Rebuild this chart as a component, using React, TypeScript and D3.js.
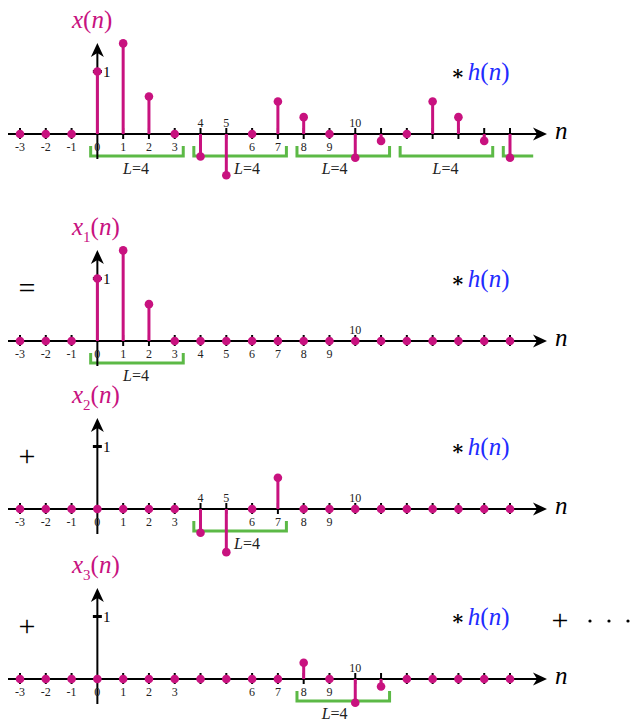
import React from "react";
import * as d3 from "d3";

// ---------- data ----------
const nValues = d3.range(-3, 17); // -3 .. 16
const xSeq = [0, 0, 0, 1, 1.45, 0.6, 0, -0.36, -0.66, 0, 0.52, 0.27, 0, -0.38, -0.11, 0, 0.52, 0.27, -0.11, -0.38];
const x1Seq = [0, 0, 0, 1, 1.45, 0.59, 0, 0, 0, 0, 0, 0, 0, 0, 0, 0, 0, 0, 0, 0];
const x2Seq = [0, 0, 0, 0, 0, 0, 0, -0.38, -0.69, 0, 0.5, 0, 0, 0, 0, 0, 0, 0, 0, 0];
const x3Seq = [0, 0, 0, 0, 0, 0, 0, 0, 0, 0, 0, 0.26, 0, -0.38, -0.12, 0, 0, 0, 0, 0];
const tickLabelNs = d3.range(-3, 11); // labels -3 .. 10
const blockLength = 4;
const blocks1 = [0, 4, 8, 12, 16];
const blocks2 = [0];
const blocks3 = [4];
const blocks4 = [8];
const blockLabelShift = [0, 0.3, -0.3, 0, 0]; // indexed by block number (start / 4)
const hidden4 = [4, 5];

// ---------- styling ----------
const MAG = "#c8127f";
const GREEN = "#5cb946";
const BLUE = "#1f2cff";
const SERIF = "'Liberation Serif', 'DejaVu Serif', serif";

const xScale = d3.scaleLinear().domain([-3, 16]).range([20, 510]);
const UNIT = 62.5;

function stealth(tipX: number, tipY: number, dir: "up" | "right") {
  const L = 14, W = 6.5, notch = 4;
  if (dir === "right") {
    return `M${tipX},${tipY} L${tipX - L},${tipY - W} L${tipX - L + notch},${tipY} L${tipX - L},${tipY + W} Z`;
  }
  return `M${tipX},${tipY} L${tipX - W},${tipY + L} L${tipX},${tipY + L - notch} L${tipX + W},${tipY + L} Z`;
}

type PanelProps = {
  axisY: number;
  values: number[];
  sub?: string;
  blocks: number[];
  op?: string;
  hidden?: number[];
};

function Panel({ axisY, values, sub, blocks, op, hidden = [] }: PanelProps) {
  const y = d3.scaleLinear().domain([0, 1]).range([axisY, axisY - UNIT]);
  const valAt = (n: number) => values[nValues.indexOf(n)] ?? 0;
  const x0 = xScale(0);
  return (
    <g>
      {/* brackets */}
      {blocks.map((s, i) => {
        const a = xScale(s - 0.26);
        const partial = s + blockLength - 1 > 16;
        const b = partial ? xScale(16.9) : xScale(s + blockLength - 1 + 0.33);
        const top = axisY + 12, bot = axisY + 22;
        const d = partial ? `M${a},${top} V${bot} H${b}` : `M${a},${top} V${bot} H${b} V${top}`;
        return <path key={"b" + i} d={d} fill="none" stroke={GREEN} strokeWidth={3} />;
      })}
      {blocks.map((s, i) => {
        if (s + blockLength - 1 > 16) return null;
        const cx = xScale(s + 1.5 + blockLabelShift[Math.round(s / blockLength)]);
        return (
          <text key={"l" + i} x={cx} y={axisY + 40} textAnchor="middle" fontFamily={SERIF} fontSize={16} fill="#222">
            <tspan fontStyle="italic">L</tspan>=4
          </text>
        );
      })}
      {/* x axis */}
      <line x1={8} x2={540} y1={axisY} y2={axisY} stroke="#000" strokeWidth={2} />
      <path d={stealth(547, axisY, "right")} fill="#000" />
      <text x={555} y={axisY + 5} fontFamily={SERIF} fontSize={25} fontStyle="italic" fill="#000">n</text>
      {/* y axis */}
      <line x1={x0} x2={x0} y1={axisY + 25} y2={axisY - 82} stroke="#000" strokeWidth={2} />
      <path d={stealth(x0, axisY - 91, "up")} fill="#000" />
      <line x1={x0 - 4.5} x2={x0 + 4.5} y1={y(1)} y2={y(1)} stroke="#000" strokeWidth={3} />
      <text x={103} y={y(1) + 5} fontFamily={SERIF} fontSize={15} fill="#000">1</text>
      {/* ticks */}
      {nValues.filter((n) => n !== 0).map((n) => (
        <line key={"t" + n} x1={xScale(n)} x2={xScale(n)} y1={axisY - 6} y2={axisY + 5} stroke="#000" strokeWidth={2} />
      ))}
      {tickLabelNs.filter((n) => !hidden.includes(n)).map((n) => {
        const above = valAt(n) < 0 || n === 10;
        return (
          <text key={"tl" + n} x={xScale(n)} y={above ? axisY - 7 : axisY + 17} textAnchor="middle" fontFamily={SERIF} fontSize={12} fill="#222">
            {n}
          </text>
        );
      })}
      {/* stems */}
      {nValues.map((n, i) =>
        values[i] !== 0 ? (
          <line key={"s" + n} x1={xScale(n)} x2={xScale(n)} y1={axisY} y2={y(values[i])} stroke={MAG} strokeWidth={3} />
        ) : null
      )}
      {nValues.map((n, i) => (
        <circle key={"c" + n} cx={xScale(n)} cy={y(values[i])} r={4.3} fill={MAG} />
      ))}
      {/* title */}
      <text x={72} y={axisY - 106} fontFamily={SERIF} fontSize={25} fill={MAG}>
        <tspan fontStyle="italic">x</tspan>
        {sub ? <tspan fontSize={15} dy={7}>{sub}</tspan> : null}
        <tspan dy={sub ? -7 : 0}>(</tspan>
        <tspan fontStyle="italic">n</tspan>)
      </text>
      {/* * h(n) */}
      <text x={451} y={axisY - 54} fontFamily={SERIF} fontSize={25} fill="#000">
        <tspan fontSize={20} fontWeight="bold" dy={0}>∗</tspan>
        <tspan fill={BLUE} fontStyle="italic" dx={3}>h</tspan>
        <tspan fill={BLUE}>(</tspan>
        <tspan fill={BLUE} fontStyle="italic">n</tspan>
        <tspan fill={BLUE}>)</tspan>
      </text>
      {op ? (
        <text x={27} y={axisY - 43} textAnchor="middle" fontFamily={SERIF} fontSize={30} fill="#000">{op}</text>
      ) : null}
    </g>
  );
}

export default function App() {
  return (
    <svg width={630} height={719} style={{ position: "absolute", left: 0, top: 0, background: "#fff" }}>
      <rect width={630} height={719} fill="#fff" />
      <Panel axisY={134} values={xSeq} blocks={blocks1} />
      <Panel axisY={341} values={x1Seq} sub="1" blocks={blocks2} op="=" />
      <Panel axisY={509} values={x2Seq} sub="2" blocks={blocks3} op="+" />
      <Panel axisY={679} values={x3Seq} sub="3" blocks={blocks4} op="+" hidden={hidden4} />
      <text x={560} y={630} textAnchor="middle" fontFamily={SERIF} fontSize={30} fill="#000">+</text>
      {[590, 609, 628].map((cx) => (
        <circle key={cx} cx={cx} cy={621} r={1.6} fill="#000" />
      ))}
    </svg>
  );
}
